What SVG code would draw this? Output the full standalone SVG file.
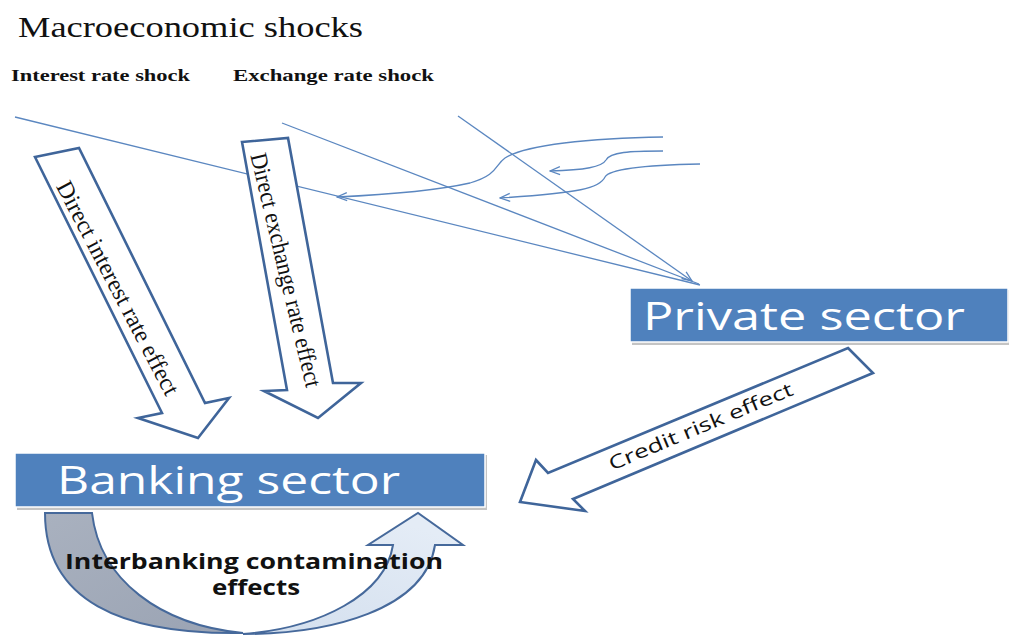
<svg xmlns="http://www.w3.org/2000/svg" width="1009" height="635" viewBox="0 0 1009 635">
<style>
.serif{font-family:"Liberation Serif","Times New Roman",serif;fill:#111}
.sans{font-family:"Open Sans","Liberation Sans",sans-serif}
.box{fill:#4F81BD;stroke:#ffffff;stroke-width:1.5}
.shadow{fill:#c4c4c4}
.boxtext{fill:#ffffff;font-size:38px}
.block{fill:#ffffff;stroke:#3F659A;stroke-width:2.6;stroke-linejoin:miter}
.conn{fill:none;stroke:#5B87C0;stroke-width:1.3}
.curved{stroke:#46699B;stroke-width:2}
</style>
<defs>
<marker id="ah" viewBox="0 0 12 10" refX="11" refY="5" markerWidth="12" markerHeight="10" markerUnits="userSpaceOnUse" orient="auto">
<path d="M1,1 L11,5 L1,9" fill="none" stroke="#5B87C0" stroke-width="1.3"/>
</marker>
<linearGradient id="gGray" x1="0" y1="0" x2="1" y2="1">
<stop offset="0" stop-color="#A9B1BF"/>
<stop offset="1" stop-color="#9AA3B3"/>
</linearGradient>
<linearGradient id="gBlue" x1="0" y1="1" x2="0.6" y2="0">
<stop offset="0" stop-color="#D3DFEE"/>
<stop offset="1" stop-color="#E4ECF6"/>
</linearGradient>
</defs>

<g id="title">
<text class="serif" x="18" y="37" font-size="30" textLength="345" lengthAdjust="spacingAndGlyphs">Macroeconomic shocks</text>
</g>
<g id="interest-shock">
<text class="serif" x="11" y="81" font-size="17" font-weight="bold" textLength="179" lengthAdjust="spacingAndGlyphs">Interest rate shock</text>
</g>
<g id="exchange-shock">
<text class="serif" x="233" y="81" font-size="17" font-weight="bold" textLength="201" lengthAdjust="spacingAndGlyphs">Exchange rate shock</text>
</g>

<g id="connectors">
<line class="conn" x1="15" y1="117" x2="700" y2="285"/>
<line class="conn" x1="282" y1="123" x2="699" y2="284"/>
<line class="conn" x1="458" y1="116" x2="692" y2="281" marker-end="url(#ah)"/>
<path class="conn" d="M663,137 C590,138 525,145 505,158 C495,165 498,175 470,183 C430,192 380,195 337,197" marker-end="url(#ah)"/>
<path class="conn" d="M663,151 C630,151 610,152 606,160 C602,167 585,170 550,171" marker-end="url(#ah)"/>
<path class="conn" d="M700,164 C650,165 610,168 605,177 C600,188 580,193 500,198" marker-end="url(#ah)"/>
</g>

<g id="direct-interest-arrow">
<polygon class="block" points="35,157 79,148 205,403 229,398 198,438 138,418 162,413"/>
<text class="serif" font-size="24" text-anchor="middle" textLength="238" lengthAdjust="spacingAndGlyphs" transform="translate(118,288) rotate(62.4)" y="8">Direct interest rate effect</text>
</g>

<g id="direct-exchange-arrow">
<polygon class="block" points="242,142 288,138 333,383 361,383 318,418 264,391 287,390"/>
<text class="serif" font-size="24" text-anchor="middle" textLength="240" lengthAdjust="spacingAndGlyphs" transform="translate(286,270) rotate(76.5)" y="8">Direct exchange rate effect</text>
</g>

<g id="private-sector">
<rect class="shadow" x="632" y="290" width="378" height="55"/>
<rect class="box" x="630" y="288" width="378" height="54"/>
<text class="sans boxtext" x="643" y="330" textLength="322" lengthAdjust="spacingAndGlyphs">Private sector</text>
</g>

<g id="credit-risk-arrow">
<polygon class="block" points="848,348 873,373 573,499 585,511 520,502 536,460 548,473"/>
<text class="sans" font-size="19" fill="#111" text-anchor="middle" textLength="198" lengthAdjust="spacingAndGlyphs" transform="translate(701,427) rotate(-22.7)" y="6">Credit risk effect</text>
</g>

<g id="banking-sector">
<rect class="shadow" x="17" y="455" width="470" height="55"/>
<rect class="box" x="15" y="453" width="470" height="54"/>
<text class="sans boxtext" x="57" y="494" textLength="343" lengthAdjust="spacingAndGlyphs">Banking sector</text>
</g>

<g id="interbanking-arrow">
<path class="curved" fill="url(#gGray)" d="M45,513 L92,513 C100,580 160,625 243,633 C120,635 45,600 45,513 Z"/>
<path class="curved" fill="url(#gBlue)" d="M243,634 C330,634 425,610 435,545 L463,545 L418,513 L368,545 L393,545 C385,595 320,628 243,634 Z"/>
<text class="sans" font-size="21" font-weight="bold" fill="#111" x="65" y="569" textLength="378" lengthAdjust="spacingAndGlyphs">Interbanking contamination</text>
<text class="sans" font-size="21" font-weight="bold" fill="#111" x="212" y="595" textLength="88" lengthAdjust="spacingAndGlyphs">effects</text>
</g>
</svg>
